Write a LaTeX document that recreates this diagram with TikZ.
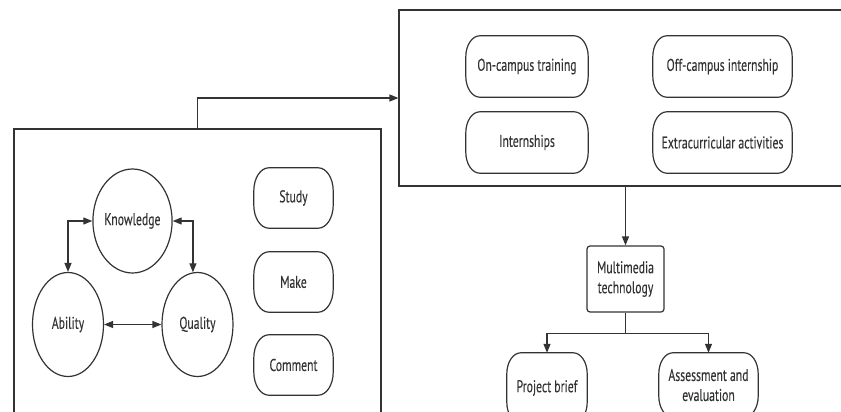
\documentclass[tikz,border=0pt]{standalone}
\usepackage{fontspec}
\setmainfont[FakeStretch=0.69,FakeBold=0.2]{PT Sans}
\usetikzlibrary{arrows.meta,shapes.geometric,calc}
\definecolor{ln}{HTML}{333333}
\tikzset{
  every node/.style={font=\fontsize{17}{20}\selectfont, text=ln},
  frame/.style={draw=ln, line width=1.2pt, rectangle, inner sep=0pt},
  pill/.style={rectangle, inner sep=0pt, align=center},
  circ/.style={draw=ln, line width=1.2pt, ellipse, inner sep=0pt, minimum width=71pt, minimum height=104pt},
  sbox/.style={draw=ln, line width=1.2pt, rectangle, rounded corners=3pt, inner sep=0pt, align=center},
  conn/.style={draw=ln, line width=1.2pt},
  arr/.style={conn, -{Triangle[length=9pt,width=7pt]}},
  arrb/.style={conn, {Triangle[length=9pt,width=7pt]}-{Triangle[length=9pt,width=7pt]}}
}
% pill outline with elliptical corners: node name, x radius, y radius
\newcommand\pilloutline[3]{%
  \draw[conn] ($(#1.north west)+(#2,0)$) -- ($(#1.north east)+(-#2,0)$)
    .. controls +(0.552*#2,0) and +(0,-0.552*#3) .. ($(#1.north east)+(0,#3)$)
    -- ($(#1.south east)+(0,-#3)$)
    .. controls +(0,0.552*#3) and +(0.552*#2,0) .. ($(#1.south east)+(-#2,0)$)
    -- ($(#1.south west)+(#2,0)$)
    .. controls +(-0.552*#2,0) and +(0,0.552*#3) .. ($(#1.south west)+(0,-#3)$)
    -- ($(#1.north west)+(0,#3)$)
    .. controls +(0,-0.552*#3) and +(-0.552*#2,0) .. cycle;}
\begin{document}
\begin{tikzpicture}[x=1pt,y=-1pt]
\useasboundingbox (0,0) rectangle (841,412);
\clip (0,0) rectangle (841,412);
% left frame
\node[frame, minimum width=367pt, minimum height=311pt] (leftbox) at (197.5,284.5) {};
% right frame
\node[frame, minimum width=471pt, minimum height=176pt] (rightbox) at (634.5,98) {};
% circles
\node[circ] (kn) at (132.5,221) {Knowledge};
\node[circ] (ab) at (68,324.5) {Ability};
\node[circ] (qu) at (197.5,324.5) {Quality};
% pills left
\node[pill, minimum width=79pt, minimum height=60pt] (st) at (293.5,198) {Study};
\node[pill, minimum width=79pt, minimum height=60pt] (mk) at (293.5,282) {Make};
\node[pill, minimum width=79pt, minimum height=60pt] (cm) at (293.5,365) {Comment};
% pills right
\node[pill, minimum width=122pt, minimum height=61pt] (oc) at (527,66.5) {On-campus training};
\node[pill, minimum width=139pt, minimum height=61pt] (of) at (722.5,66.5) {Off-campus internship};
\node[pill, minimum width=122pt, minimum height=61pt] (in) at (527,142.5) {Internships};
\node[pill, minimum width=139pt, minimum height=61pt] (ex) at (722.5,142.5) {Extracurricular activities};
% multimedia
\node[sbox, minimum width=77pt, minimum height=66pt] (mm) at (625.5,279) {Multimedia\\technology};
\node[pill, minimum width=80pt, minimum height=70pt] (pb) at (547,388) {Project brief};
\node[pill, minimum width=99pt, minimum height=64pt] (ae) at (708.5,385) {Assessment and\\evaluation};
\pilloutline{st}{15}{23}
\pilloutline{mk}{15}{23}
\pilloutline{cm}{15}{23}
\pilloutline{oc}{14}{21}
\pilloutline{of}{14}{21}
\pilloutline{in}{14}{21}
\pilloutline{ex}{14}{21}
\pilloutline{pb}{14}{21}
\pilloutline{ae}{14}{21}
% connectors
\draw[arr] (leftbox.north) |- (rightbox.west);
\draw[arr] (rightbox.south -| mm.north) -- (mm.north);
\coordinate (bus) at ($(mm.south)+(0,21)$);
\draw[arr] (mm.south) -- (bus) -| (pb.north);
\draw[arr] (bus) -| (ae.north);
\draw[arrb] (ab.north) |- (kn.west);
\draw[arrb] (kn.east) -| (qu.95);
\draw[arrb] (ab.east) -- (qu.west);
\end{tikzpicture}
\end{document}
